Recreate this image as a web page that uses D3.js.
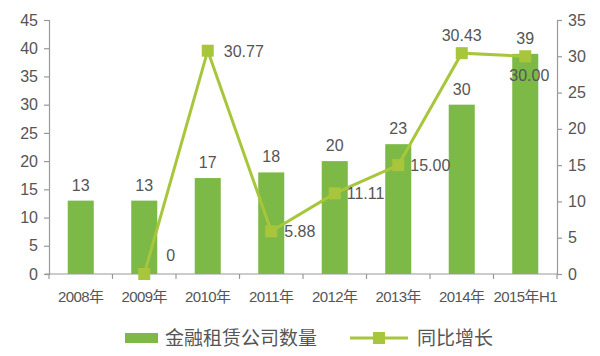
<!DOCTYPE html>
<html><head><meta charset="utf-8">
<script src="https://cdn.jsdelivr.net/npm/d3@7"></script>
<style>
body{margin:0;background:#fff;}
svg text{font-family:"Liberation Sans","Noto Sans CJK SC",sans-serif;fill:#555;}
</style></head>
<body><svg id="c" width="600" height="356"></svg>
<script>
const categories = ["2008年","2009年","2010年","2011年","2012年","2013年","2014年","2015年H1"];
const companyCount = [13,13,17,18,20,23,30,39];
const growthRate = [null,0,30.77,5.88,11.11,15.00,30.43,30.00];
const growthLabels = ["","0","30.77","5.88","11.11","15.00","30.43","30.00"];
const leftTicks = [0,5,10,15,20,25,30,35,40,45];
const rightTicks = [0,5,10,15,20,25,30,35];
const seriesNames = ["金融租赁公司数量","同比增长"];

const barColor = "#7cb947", lineColor = "#a8c63c", textColor = "#555";
const svg = d3.select("#c");
const L = 49, R = 557, T = 20, B = 274;

const x = d3.scaleBand().domain(categories).range([L,R]).paddingInner(0.59).paddingOuter(0.295);
const xc = d3.scaleBand().domain(categories).range([L,R]);
const yL = d3.scaleLinear().domain([0,45]).range([B,T]);
const yR = d3.scaleLinear().domain([0,35]).range([B,T]);

function styleAxis(g){
  g.selectAll("path,line").attr("stroke","#999").attr("stroke-width",1.2);
  g.selectAll("text").attr("fill",textColor).style("font-size","16px");
}
svg.append("g").attr("transform",`translate(${L},0)`)
  .call(d3.axisLeft(yL).tickValues(leftTicks).tickSize(5).tickSizeOuter(5).tickPadding(6)).call(styleAxis);
svg.append("g").attr("transform",`translate(${R},0)`)
  .call(d3.axisRight(yR).tickValues(rightTicks).tickSize(5).tickSizeOuter(5).tickPadding(6)).call(styleAxis);

// x axis with ticks at category boundaries
const xg = svg.append("g").attr("transform",`translate(0,${B})`);
xg.append("line").attr("x1",L-4).attr("x2",R).attr("stroke","#999").attr("stroke-width",1.2);
const bounds = categories.map(c=>xc(c)).concat([R]);
xg.selectAll("line.t").data(bounds).enter().append("line")
  .attr("x1",d=>d).attr("x2",d=>d).attr("y1",0).attr("y2",5).attr("stroke","#999").attr("stroke-width",1.2);
xg.selectAll("text").data(categories).enter().append("text")
  .attr("x",d=>xc(d)+xc.bandwidth()/2).attr("y",28).attr("text-anchor","middle")
  .style("font-size","15px").style("letter-spacing","-0.6px").text(d=>d);

// bars
svg.selectAll("rect.bar").data(categories).enter().append("rect")
  .attr("x",d=>x(d)).attr("width",x.bandwidth())
  .attr("y",(d,i)=>yL(companyCount[i])).attr("height",(d,i)=>B-yL(companyCount[i]))
  .attr("fill",barColor);
svg.selectAll("text.bl").data(categories).enter().append("text")
  .attr("x",d=>xc(d)+xc.bandwidth()/2).attr("y",(d,i)=>yL(companyCount[i])-10)
  .attr("text-anchor","middle").style("font-size","16px").text((d,i)=>companyCount[i]);

// line
const pts = categories.map((c,i)=>({c,v:growthRate[i],lab:growthLabels[i]})).filter(d=>d.v!==null);
const cx = d=>xc(d.c)+xc.bandwidth()/2;
svg.append("path").datum(pts)
  .attr("d",d3.line().x(cx).y(d=>yR(d.v)))
  .attr("fill","none").attr("stroke",lineColor).attr("stroke-width",3);
svg.selectAll("rect.m").data(pts).enter().append("rect")
  .attr("x",d=>cx(d)-6).attr("y",d=>yR(d.v)-6).attr("width",12).attr("height",12)
  .attr("fill",lineColor);
const off = {"0":[22,-13,"start"],"30.77":[16,6,"start"],"5.88":[13,6,"start"],"11.11":[12,6,"start"],
  "15.00":[12,6,"start"],"30.43":[0,-12,"middle"],"30.00":[-16,25,"start"]};
svg.selectAll("text.ll").data(pts).enter().append("text")
  .attr("x",d=>cx(d)+off[d.lab][0]).attr("y",d=>yR(d.v)+off[d.lab][1])
  .attr("text-anchor",d=>off[d.lab][2]).style("font-size","16px").text(d=>d.lab);

// legend
const lg = svg.append("g");
lg.append("rect").attr("x",125).attr("y",333).attr("width",33).attr("height",10).attr("fill",barColor);
lg.append("text").attr("x",165).attr("y",345).style("font-size","19px").text(seriesNames[0]);
lg.append("line").attr("x1",350).attr("x2",408).attr("y1",338).attr("y2",338).attr("stroke",lineColor).attr("stroke-width",3);
lg.append("rect").attr("x",373).attr("y",332).attr("width",12).attr("height",12).attr("fill",lineColor);
lg.append("text").attr("x",417).attr("y",345).style("font-size","19px").text(seriesNames[1]);
</script></body></html>
